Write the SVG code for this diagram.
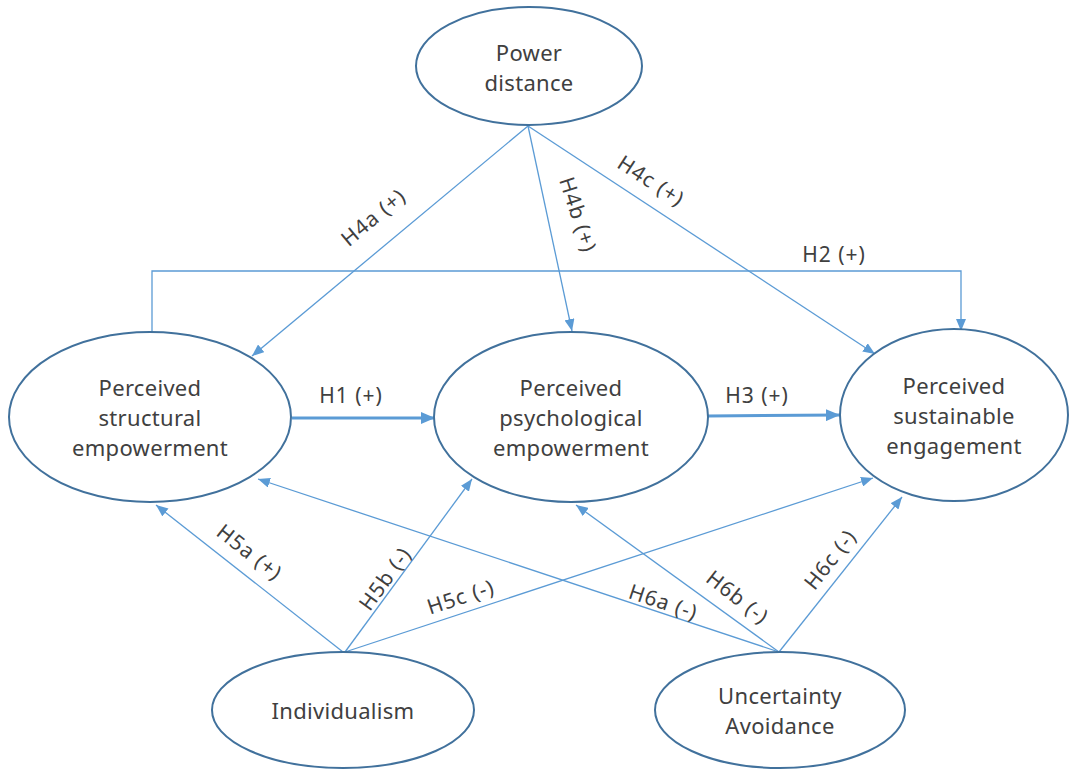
<svg xmlns="http://www.w3.org/2000/svg" width="1070" height="770" viewBox="0 0 1070 770">
<defs>
<marker id="ah" viewBox="0 0 12 10" refX="12" refY="5" markerWidth="12" markerHeight="10" markerUnits="userSpaceOnUse" orient="auto">
<path d="M0,0 L12,5 L0,10 Z" fill="#5b9bd5"/>
</marker>
<marker id="ahb" viewBox="0 0 14 12" refX="14" refY="6" markerWidth="14" markerHeight="12" markerUnits="userSpaceOnUse" orient="auto">
<path d="M0,0 L14,6 L0,12 Z" fill="#5b9bd5"/>
</marker>
</defs>
<style>
.node{fill:#fff;stroke:#41719c;stroke-width:2}
.t{font-family:"Noto Sans","Open Sans",sans-serif;font-size:22px;fill:#404040;text-anchor:middle;letter-spacing:0.3px}
.l{font-family:"Noto Sans","Open Sans",sans-serif;font-size:21px;fill:#404040;text-anchor:middle;letter-spacing:1px}
.c{fill:none;stroke:#5b9bd5;stroke-width:1.3;marker-end:url(#ah)}
.cb{fill:none;stroke:#5b9bd5;stroke-width:3;marker-end:url(#ahb)}
</style>
<rect width="1070" height="770" fill="#fff"/>
<g id="connectors">
<path class="c" d="M528,126 L252,356"/>
<path class="c" d="M528,126 L572,331"/>
<path class="c" d="M528,126 L875,354"/>
<path class="c" d="M152,337 L152,271 L961,271 L961,331"/>
<path class="cb" d="M292,418 L435,418"/>
<path class="cb" d="M708,416 L840,415"/>
<path class="c" d="M343,652 L156,505"/>
<path class="c" d="M345,652 L472,479"/>
<path class="c" d="M345,652 L873,478"/>
<path class="c" d="M779,652 L258,479"/>
<path class="c" d="M779,652 L576,505"/>
<path class="c" d="M779,652 L902,497"/>
</g>
<g id="labels">
<text class="l" transform="translate(378,223) rotate(-39.8)">H4a (+)</text>
<text class="l" transform="translate(571,217) rotate(72)">H4b (+)</text>
<text class="l" transform="translate(647,187) rotate(33)">H4c (+)</text>
<text class="l" x="834" y="262">H2 (+)</text>
<text class="l" x="351" y="403">H1 (+)</text>
<text class="l" x="757" y="403">H3 (+)</text>
<text class="l" transform="translate(245,558) rotate(38)">H5a (+)</text>
<text class="l" transform="translate(391,583) rotate(-54)">H5b (-)</text>
<text class="l" transform="translate(463,604) rotate(-18.2)">H5c (-)</text>
<text class="l" transform="translate(661,609) rotate(18.4)">H6a (-)</text>
<text class="l" transform="translate(733,603) rotate(38)">H6b (-)</text>
<text class="l" transform="translate(836,564) rotate(-51.6)">H6c (-)</text>
</g>
<g id="power-distance">
<ellipse class="node" cx="529" cy="66" rx="113" ry="59"/>
<text class="t" x="529" y="61">Power</text>
<text class="t" x="529" y="91">distance</text>
</g>
<g id="structural">
<ellipse class="node" cx="150" cy="417" rx="141" ry="85"/>
<text class="t" x="150" y="396">Perceived</text>
<text class="t" x="150" y="426">structural</text>
<text class="t" x="150" y="456">empowerment</text>
</g>
<g id="psychological">
<ellipse class="node" cx="571" cy="417" rx="137" ry="85"/>
<text class="t" x="571" y="396">Perceived</text>
<text class="t" x="571" y="426">psychological</text>
<text class="t" x="571" y="456">empowerment</text>
</g>
<g id="sustainable">
<ellipse class="node" cx="954" cy="415" rx="114" ry="86"/>
<text class="t" x="954" y="394">Perceived</text>
<text class="t" x="954" y="424">sustainable</text>
<text class="t" x="954" y="454">engagement</text>
</g>
<g id="individualism">
<ellipse class="node" cx="343" cy="710" rx="131" ry="58"/>
<text class="t" x="343" y="719">Individualism</text>
</g>
<g id="uncertainty">
<ellipse class="node" cx="780" cy="710" rx="125" ry="58"/>
<text class="t" x="780" y="704">Uncertainty</text>
<text class="t" x="780" y="734">Avoidance</text>
</g>
</svg>
